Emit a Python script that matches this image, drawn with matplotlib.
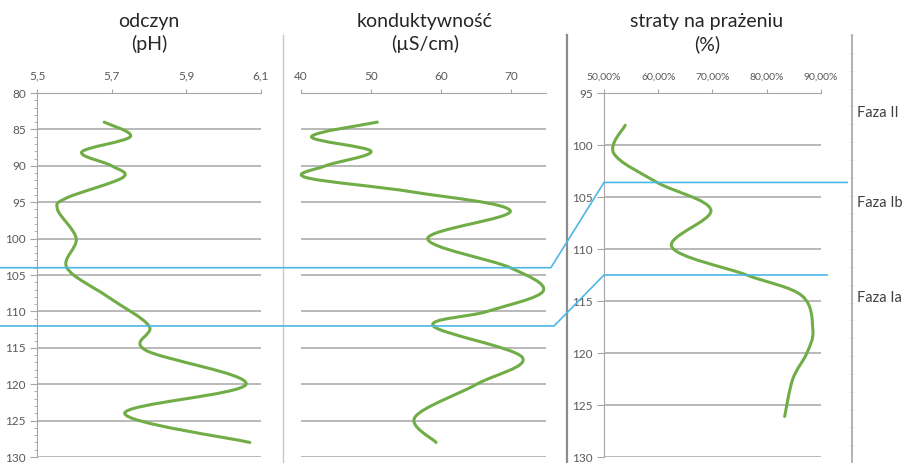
import numpy as np
import matplotlib
matplotlib.use("Agg")
import matplotlib.pyplot as plt
from matplotlib.path import Path
from matplotlib.patches import PathPatch
from matplotlib.lines import Line2D
from matplotlib.ticker import FixedLocator, MultipleLocator, FuncFormatter
from matplotlib.transforms import blended_transform_factory

plt.rcParams["font.family"] = ["Lato", "DejaVu Sans"]

# odczyn (pH) vs depth
ph_depth = [84, 86, 88.1, 90, 91.6, 94.4, 96, 100, 104, 108, 112, 115.3, 120, 124, 128]
ph_value = [5.68, 5.75, 5.62, 5.70, 5.73, 5.58, 5.555, 5.605, 5.58, 5.69, 5.80, 5.79, 6.06, 5.735, 6.07]
ph_ticks = [5.5, 5.7, 5.9, 6.1]

# konduktywnosc (uS/cm) vs depth
cond_depth = [84, 86, 88, 90, 91.6, 93.6, 96.2, 100, 104, 107.2, 110, 112, 116.3, 120, 124.5, 128]
cond_value = [50.9, 41.5, 50.0, 43.5, 40.7, 56.0, 69.9, 58.1, 69.9, 74.6, 66.6, 58.9, 71.6, 65.1, 56.3, 59.3]
cond_ticks = [40, 50, 60, 70]

# straty na prazeniu (fraction) vs depth
loi_depth = [98.1, 100.8, 103.6, 106.25, 109.8, 112.5, 114.5, 117.8, 120, 122.5, 126.1]
loi_value = [0.539, 0.518, 0.598, 0.697, 0.625, 0.763, 0.865, 0.885, 0.874, 0.848, 0.833]
loi_ticks = [0.5, 0.6, 0.7, 0.8, 0.9]

# phase boundaries (depth in left scale, depth in right scale)
bound_left = [104, 112]
bound_right = [103.6, 112.5]
phase_names = ["Faza II", "Faza Ib", "Faza Ia"]
phase_label_depth = [96.9, 105.6, 114.7]

W, H = 903, 463
GREEN = "#70ad47"
BLUE = "#4cb8e6"
GRID = "#a6a6a6"
AXIS = "#a6a6a6"
TXT = "#595959"


def px_rect(x0, y0, x1, y1):
    return [x0 / W, 1 - y1 / H, (x1 - x0) / W, (y1 - y0) / H]


def smooth_path(xs, ys):
    # catmull-rom style bezier through the points (like excel smoothed lines)
    pts = np.column_stack([xs, ys]).astype(float)
    n = len(pts)
    verts = [pts[0]]
    codes = [Path.MOVETO]
    for i in range(n - 1):
        p0 = pts[i - 1] if i > 0 else pts[i]
        p1 = pts[i]
        p2 = pts[i + 1]
        p3 = pts[i + 2] if i + 2 < n else pts[i + 1]
        verts += [p1 + (p2 - p0) / 6, p2 - (p3 - p1) / 6, p2]
        codes += [Path.CURVE4] * 3
    return Path(verts, codes)


def style(ax, xlim, xticks, fmt, ylim):
    ax.set_xlim(*xlim)
    ax.set_ylim(ylim[1], ylim[0])
    ax.xaxis.tick_top()
    ax.xaxis.set_major_locator(FixedLocator(xticks))
    ax.xaxis.set_major_formatter(FuncFormatter(fmt))
    ax.yaxis.set_major_locator(MultipleLocator(5))
    ax.grid(axis="y", color=GRID, lw=1.1)
    ax.set_axisbelow(True)
    ax.spines["bottom"].set_visible(False)
    ax.spines["right"].set_visible(False)
    ax.spines["top"].set_color(AXIS)
    ax.spines["left"].set_color(AXIS)
    ax.tick_params(axis="x", direction="out", length=3, color=AXIS,
                   labelsize=8.5, labelcolor=TXT, pad=5)
    ax.tick_params(axis="y", direction="out", length=5, color=AXIS,
                   labelsize=8.5, labelcolor=TXT, pad=3)


fig = plt.figure(figsize=(W / 100, H / 100), dpi=100)

ax_ph = fig.add_axes(px_rect(37, 93, 261, 457))
style(ax_ph, (5.5, 6.1), ph_ticks, lambda v, _: f"{v:.1f}".replace(".", ","), (80, 130))
ax_ph.yaxis.set_minor_locator(MultipleLocator(1))
ax_ph.tick_params(axis="y", which="minor", direction="out", length=2.5, color=AXIS)
ax_ph.add_patch(PathPatch(smooth_path(ph_value, ph_depth), fill=False,
                          ec=GREEN, lw=2.2, capstyle="round", zorder=3))

ax_c = fig.add_axes(px_rect(301, 93, 546, 457))
style(ax_c, (40, 75), cond_ticks, lambda v, _: f"{v:.0f}", (80, 130))
ax_c.spines["left"].set_visible(False)
ax_c.tick_params(axis="y", left=False, labelleft=False)
ax_c.add_patch(PathPatch(smooth_path(cond_value, cond_depth), fill=False,
                         ec=GREEN, lw=2.2, capstyle="round", zorder=3, clip_on=False))

ax_l = fig.add_axes(px_rect(604, 93, 821, 457))
style(ax_l, (0.5, 0.9), loi_ticks,
      lambda v, _: f"{v * 100:.2f}%".replace(".", ","), (95, 130))
ax_l.tick_params(axis="x", labelsize=7.5)
ax_l.add_patch(PathPatch(smooth_path(loi_value, loi_depth), fill=False,
                         ec=GREEN, lw=2.2, capstyle="round", zorder=3))

# titles
titles = ["odczyn\n(pH)", "konduktywność\n(µS/cm)", "straty na prażeniu\n(%)"]
for cx, t in zip([149, 425, 707], titles):
    fig.text(cx / W, 1 - 33 / H, t, ha="center", va="center",
             fontsize=14, color="#262626", linespacing=1.35)

# panel separators
for x, c, lw in [(283, "#c8c8c8", 1.0), (567, "#8c8c8c", 1.6), (852, "#a6a6a6", 1.2)]:
    fig.add_artist(Line2D([x / W, x / W], [0, 1 - 35 / H], transform=fig.transFigure,
                          color=c, lw=lw))

# faint ticks on the phase axis
ax_f = fig.add_axes(px_rect(852, 35, 853, 463))
ax_f.set_ylim(0, 24)
ax_f.set_xticks([])
ax_f.yaxis.set_major_locator(MultipleLocator(1))
ax_f.tick_params(axis="y", direction="inout", length=3, width=0.6,
                 color="#e0e0e0", labelleft=False)
for s in ax_f.spines.values():
    s.set_visible(False)
ax_f.patch.set_alpha(0)

# phase boundary lines linking the panels
to_fig = fig.transFigure.inverted()
ends_mid = [1.02, 1.033]
ends_right = [1.12, 1.028]
for dl, dr, em, er in zip(bound_left, bound_right, ends_mid, ends_right):
    pts = [
        blended_transform_factory(fig.transFigure, ax_ph.transData).transform((0, dl)),
        blended_transform_factory(ax_c.transAxes, ax_c.transData).transform((em, dl)),
        blended_transform_factory(ax_l.transAxes, ax_l.transData).transform((0, dr)),
        blended_transform_factory(ax_l.transAxes, ax_l.transData).transform((er, dr)),
    ]
    pts = to_fig.transform(np.array(pts))
    fig.add_artist(Line2D(pts[:, 0], pts[:, 1], transform=fig.transFigure,
                          color=BLUE, lw=1.2, zorder=5))

# phase labels
lab_tr = blended_transform_factory(fig.transFigure, ax_l.transData)
for name, d in zip(phase_names, phase_label_depth):
    fig.text(857 / W, d, name, transform=lab_tr, ha="left", va="center",
             fontsize=10.5, color="#404040")

fig.savefig("out.png", dpi=100, facecolor="white")
